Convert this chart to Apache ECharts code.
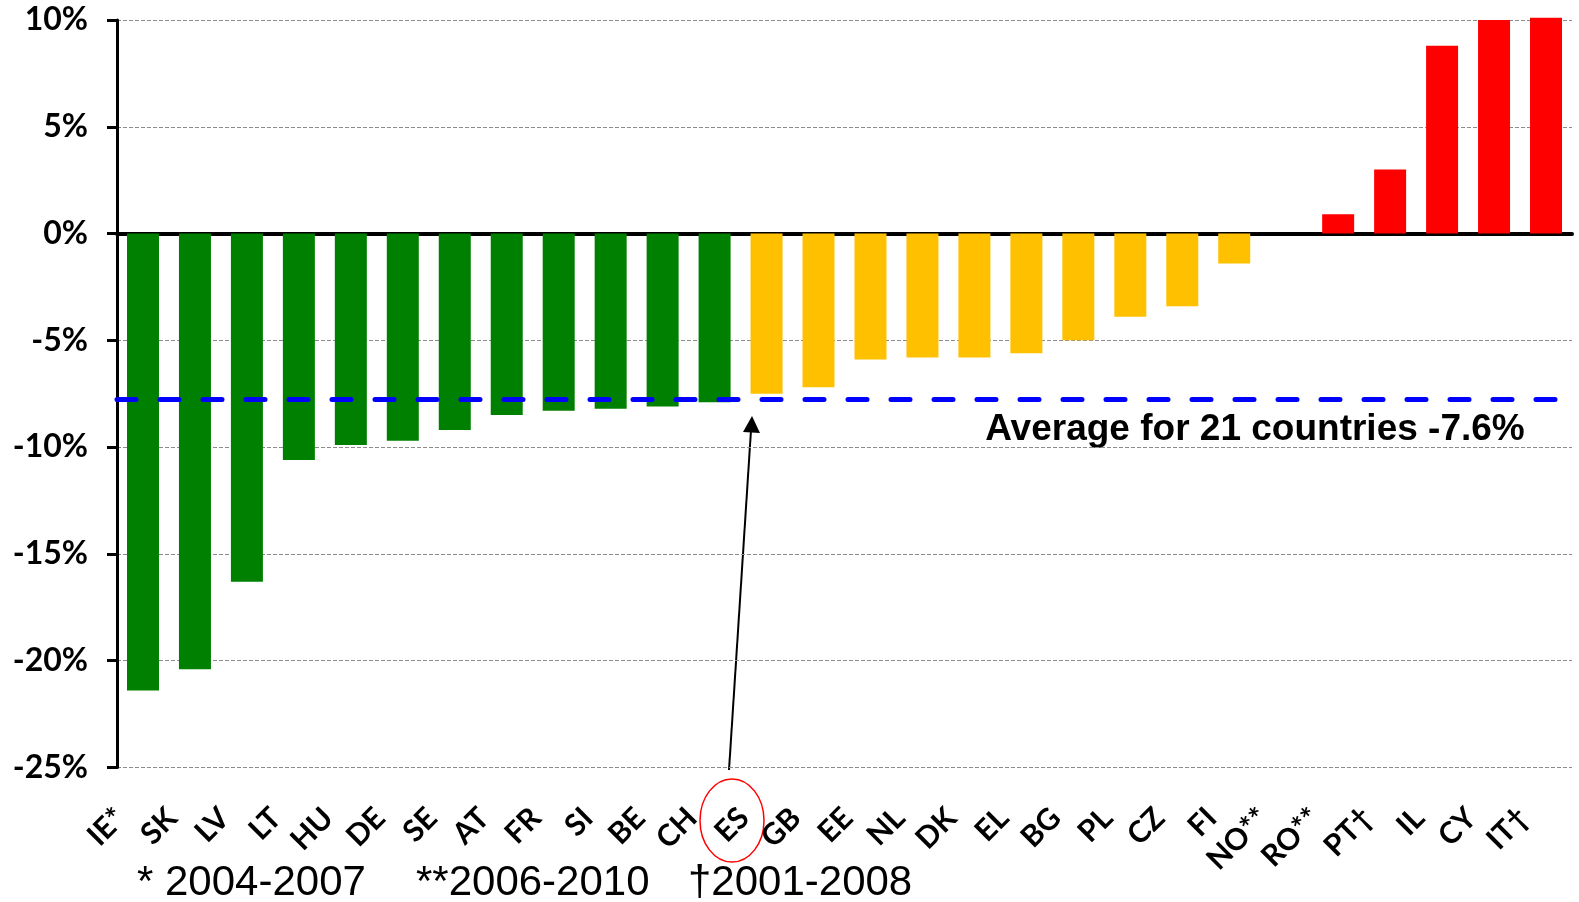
<!DOCTYPE html>
<html>
<head>
<meta charset="utf-8">
<script src="https://cdn.jsdelivr.net/npm/echarts@6/dist/echarts.min.js"></script>
<style>
  html, body { margin: 0; padding: 0; background: #fff; }
  #chart { width: 1579px; height: 902px; }
</style>
</head>
<body>
<div id="chart"></div>
<script>
// country codes, left to right
var countries = ['IE*', 'SK', 'LV', 'LT', 'HU', 'DE', 'SE', 'AT', 'FR', 'SI', 'BE', 'CH',
  'ES', 'GB', 'EE', 'NL', 'DK', 'EL', 'BG', 'PL', 'CZ', 'FI', 'NO**', 'RO**', 'PT†', 'IL', 'CY', 'IT†'];

// change in % (NO** has no bar)
var changes = [-21.4, -20.4, -16.3, -10.6, -9.9, -9.7, -9.2, -8.5, -8.3, -8.2, -8.1, -7.9,
  -7.5, -7.2, -5.9, -5.8, -5.8, -5.6, -5.0, -3.9, -3.4, -1.4, null, 0.9, 3.0, 8.8, 10.0, 10.1];

// colour group of each bar
var tiers = ['g', 'g', 'g', 'g', 'g', 'g', 'g', 'g', 'g', 'g', 'g', 'g',
  'y', 'y', 'y', 'y', 'y', 'y', 'y', 'y', 'y', 'y', 'y', 'r', 'r', 'r', 'r', 'r'];

// y axis ticks
var yMin = -25, yMax = 10, yStep = 5;

// average line
var avgValue = -7.75;
var avgLabel = 'Average for 21 countries -7.6%';

var footnotes = ['* 2004-2007', '**2006-2010', '†2001-2008'];

var tierColors = { g: '#008000', y: '#FFC000', r: '#FF0000' };

var myChart = echarts.init(document.getElementById('chart'));

var barData = changes.map(function (v, i) {
  return { value: v, itemStyle: { color: tierColors[tiers[i]] } };
});

myChart.setOption({
  animation: false,
  grid: { left: 117, right: 7, top: 20, bottom: 134.5, containLabel: false },
  xAxis: [
    {
      type: 'category',
      data: countries,
      position: 'bottom',
      axisLine: { show: false, onZero: false },
      axisTick: { show: false },
      axisLabel: {
        interval: 0,
        rotate: 45,
        margin: 23,
        padding: [0, 32, 0, 0],
        color: '#000',
        fontFamily: 'Lato',
        fontWeight: 'bold',
        fontSize: 30
      }
    },
    {
      type: 'category',
      data: countries,
      position: 'bottom',
      axisLine: { show: true, onZero: true, lineStyle: { color: '#000', width: 4 } },
      axisTick: { show: false },
      axisLabel: { show: false }
    }
  ],
  yAxis: {
    type: 'value',
    min: yMin,
    max: yMax,
    interval: yStep,
    axisLine: { show: true, lineStyle: { color: '#000', width: 3 } },
    axisTick: { show: true, length: 10, lineStyle: { color: '#000', width: 3 } },
    axisLabel: {
      formatter: '{value}%',
      margin: 29,
      color: '#000',
      fontFamily: 'Lato',
      fontWeight: 'bold',
      fontSize: 32
    },
    splitLine: { show: true, lineStyle: { color: '#8c8c8c', width: 1, type: [4, 2] } }
  },
  series: [
    {
      type: 'bar',
      xAxisIndex: 0,
      data: barData,
      barWidth: 32,
      clip: false,
      markLine: {
        silent: true,
        symbol: 'none',
        label: { show: false },
        lineStyle: { color: '#0000FF', width: 5, type: [19, 24], cap: 'round' },
        data: [{ yAxis: avgValue }]
      }
    }
  ],
  graphic: [
    {
      type: 'text',
      style: {
        text: avgLabel, x: 1255, y: 448, textAlign: 'center', textVerticalAlign: 'bottom',
        font: 'bold 37px "Liberation Sans"', fill: '#000'
      }
    },
    // arrow pointing from ES up to the average line
    {
      type: 'line',
      shape: { x1: 729, y1: 770, x2: 751, y2: 430 },
      style: { stroke: '#000', lineWidth: 2 }
    },
    {
      type: 'polygon',
      shape: { points: [[752, 416], [743, 432], [760, 433]] },
      style: { fill: '#000' }
    },
    {
      type: 'ellipse',
      shape: { cx: 732, cy: 820.5, rx: 32, ry: 41.5 },
      style: { fill: 'none', stroke: '#FF0000', lineWidth: 1.5 }
    },
    {
      type: 'text',
      style: { text: footnotes[0], x: 137, y: 904, textVerticalAlign: 'bottom', font: '42px "Liberation Sans"', fill: '#000' }
    },
    {
      type: 'text',
      style: { text: footnotes[1], x: 416, y: 904, textVerticalAlign: 'bottom', font: '42px "Liberation Sans"', fill: '#000' }
    },
    {
      type: 'text',
      style: { text: footnotes[2], x: 688, y: 904, textVerticalAlign: 'bottom', font: '42px "Liberation Sans"', fill: '#000' }
    }
  ]
});
</script>
</body>
</html>
